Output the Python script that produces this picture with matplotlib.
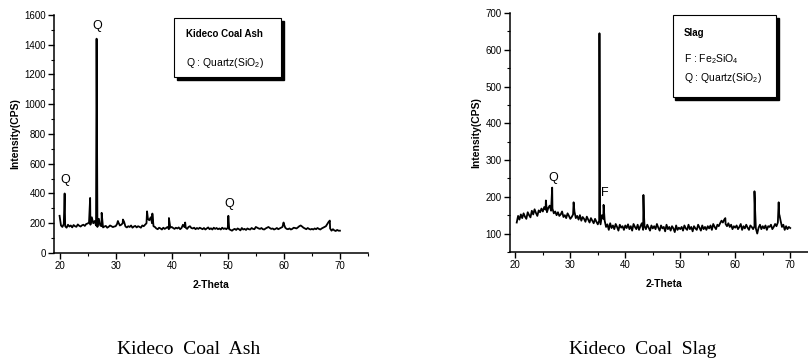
import numpy as np
import matplotlib.pyplot as plt
from matplotlib.patches import Rectangle
from matplotlib.ticker import MultipleLocator

plt.rcParams['font.family'] = ['Liberation Sans', 'DejaVu Sans']
plt.rcParams['mathtext.fontset'] = 'custom'
plt.rcParams['mathtext.rm'] = 'Liberation Sans'
plt.rcParams['mathtext.it'] = 'Liberation Sans:italic'
plt.rcParams['mathtext.bf'] = 'Liberation Sans:bold'

# Kideco coal ash: background every 0.25 deg from 20 to 70, plus peak tops
ash_theta = np.arange(20.0, 70.01, 0.25)
ash_cps = [
    250, 185, 175, 195, 180, 170, 190, 178, 185, 172, 188, 180, 176, 192, 183, 178, 186, 190, 182, 195,
    198, 205, 190, 240, 200, 215, 185, 175, 230, 185, 180, 172, 178, 182, 170, 176, 185, 180, 174, 178,
    180, 195, 205, 185, 190, 200, 210, 178, 172, 180, 175, 185, 170, 178, 182, 172, 180, 176, 170, 185,
    180, 190, 200, 230, 220, 240, 200, 180, 175, 165, 160, 170, 165, 158, 170, 162, 168, 175, 160, 170,
    175, 168, 162, 170, 165, 172, 160, 168, 190, 175, 170, 162, 175, 180, 168, 165, 170, 160, 168, 162,
    170, 165, 160, 168, 158, 165, 172, 160, 166, 158, 170, 162, 168, 160, 165, 158, 170, 162, 166, 160,
    170, 160, 155, 150, 158, 162, 155, 165, 160, 152, 168, 158, 162, 155, 165, 160, 158, 168, 162, 160,
    175, 170, 165, 162, 168, 160, 158, 165, 170, 175, 168, 162, 165, 158, 162, 168, 160, 165, 170, 175,
    195, 170, 162, 160, 165, 158, 162, 170, 168, 165, 172, 180, 185, 178, 170, 165, 160, 168, 162, 158,
    162, 158, 165, 160, 168, 162, 158, 165, 170, 175, 180, 195, 210, 165, 150, 160, 152, 148, 155, 150,
    150]
ash_peak_theta = [20.9, 25.45, 26.6, 26.7, 27.5, 30.4, 31.3, 35.6, 36.55, 39.5, 42.4, 50.1, 59.95, 68.2]
ash_peak_cps = [400, 370, 1440, 600, 270, 215, 225, 280, 265, 235, 205, 250, 205, 218]

# Kideco coal slag
slag_theta = np.arange(20.25, 70.01, 0.25)
slag_cps = [
    130, 148, 138, 152, 142, 155, 146, 140, 158, 150, 144, 162, 152, 166, 156, 148, 163, 158, 168, 160,
    172, 165, 158, 170, 176, 162, 168, 155, 160, 150, 158, 148, 152, 160, 145, 150, 142, 155, 148, 140,
    145, 152, 160, 142, 148, 138, 150, 135, 145, 140, 132, 146, 138, 130, 142, 135, 128, 140, 132, 125,
    135, 125, 150, 140, 135, 118, 125, 110, 128, 115, 122, 112, 126, 118, 108, 124, 116, 120, 110, 122,
    115, 125, 112, 120, 108, 126, 118, 112, 124, 110, 120, 128, 110, 120, 112, 124, 116, 108, 122, 114,
    120, 112, 126, 116, 108, 122, 114, 118, 106, 124, 112, 118, 108, 120, 114, 104, 122, 110, 116, 112,
    118, 108, 122, 114, 110, 124, 112, 118, 106, 120, 114, 110, 124, 116, 108, 122, 112, 118, 110, 120,
    114, 122, 110, 126, 118, 112, 124, 120, 128, 135, 130, 138, 126, 120, 128, 118, 124, 112, 120, 116,
    122, 112, 118, 126, 110, 120, 114, 124, 116, 110, 122, 118, 112, 120, 114, 100, 116, 124, 112, 120,
    114, 122, 110, 120, 118, 124, 112, 118, 126, 120, 130, 150, 135, 118, 124, 110, 120, 112, 118, 115]
slag_peak_theta = [25.55, 26.7, 30.6, 35.3, 35.4, 36.05, 43.3, 43.4, 58.2, 63.5, 63.6, 67.9, 68.05]
slag_peak_cps = [190, 225, 185, 645, 150, 178, 205, 150, 142, 215, 170, 185, 150]

ash_marks = [(21.0, 490, 'Q'), (26.8, 1525, 'Q'), (50.3, 330, 'Q')]
slag_marks = [(26.9, 252, 'Q'), (36.2, 211, 'F')]


def merge(theta, cps, pt, pc):
    x = np.concatenate([theta, pt])
    y = np.concatenate([cps, pc])
    order = np.argsort(x, kind='stable')
    return x[order], y[order]


def style_axes(ax, ylim, ymajor, yminor):
    ax.set_xlim(19, 75)
    ax.set_ylim(*ylim)
    for s in ['top', 'right']:
        ax.spines[s].set_visible(False)
    for s in ['left', 'bottom']:
        ax.spines[s].set_linewidth(1.1)
    ax.xaxis.set_major_locator(MultipleLocator(10))
    ax.xaxis.set_minor_locator(MultipleLocator(5))
    ax.yaxis.set_major_locator(MultipleLocator(ymajor))
    ax.yaxis.set_minor_locator(MultipleLocator(yminor))
    ax.tick_params(which='major', direction='out', length=4, width=1, labelsize=7, pad=2)
    ax.tick_params(which='minor', direction='out', length=2, width=0.8)
    ax.set_xlabel('2-Theta', fontsize=7.5, fontweight='bold', labelpad=6)
    ax.set_ylabel('Intensity(CPS)', fontsize=7.5, fontweight='bold', labelpad=3)


def legend_box(ax, x0, y0, x1, y1, lines):
    ax.add_patch(Rectangle((x0 + 0.009, y0 - 0.013), x1 - x0, y1 - y0, transform=ax.transAxes,
                           facecolor='black', edgecolor='black', clip_on=False, zorder=4))
    ax.add_patch(Rectangle((x0, y0), x1 - x0, y1 - y0, transform=ax.transAxes,
                           facecolor='white', edgecolor='black', lw=0.8, clip_on=False, zorder=5))
    for (tx, ty, txt, bold) in lines:
        ax.text(tx, ty, txt, transform=ax.transAxes, fontsize=7 if bold else 7.5,
                fontweight='bold' if bold else 'normal', va='center', ha='left', zorder=6)


fig = plt.figure(figsize=(8.08, 3.63), dpi=100)

ax1 = fig.add_axes([0.0668, 0.303, 0.3886, 0.656])
x, y = merge(ash_theta, ash_cps, ash_peak_theta, ash_peak_cps)
ax1.plot(x, y, color='black', lw=1.3)
style_axes(ax1, (0, 1600), 200, 100)
for tx, ty, t in ash_marks:
    ax1.text(tx, ty, t, ha='center', va='center', fontsize=9)
legend_box(ax1, 0.382, 0.739, 0.723, 0.987,
           [(0.42, 0.92, 'Kideco Coal Ash', True),
            (0.42, 0.80, 'Q : Quartz(SiO$_2$)', False)])

ax2 = fig.add_axes([0.631, 0.306, 0.381, 0.658])
x, y = merge(slag_theta, slag_cps, slag_peak_theta, slag_peak_cps)
ax2.plot(x, y, color='black', lw=1.3)
style_axes(ax2, (50, 700), 100, 50)
for tx, ty, t in slag_marks:
    ax2.text(tx, ty, t, ha='center', va='center', fontsize=9)
legend_box(ax2, 0.529, 0.649, 0.864, 0.992,
           [(0.565, 0.915, 'Slag', True),
            (0.565, 0.808, 'F : Fe$_2$SiO$_4$', False),
            (0.565, 0.728, 'Q : Quartz(SiO$_2$)', False)])

fig.text(0.233, 0.036, 'Kideco  Coal  Ash', family='Liberation Serif', fontsize=14, ha='center', va='center')
fig.text(0.795, 0.036, 'Kideco  Coal  Slag', family='Liberation Serif', fontsize=14, ha='center', va='center')

fig.savefig('out.png', dpi=100)
